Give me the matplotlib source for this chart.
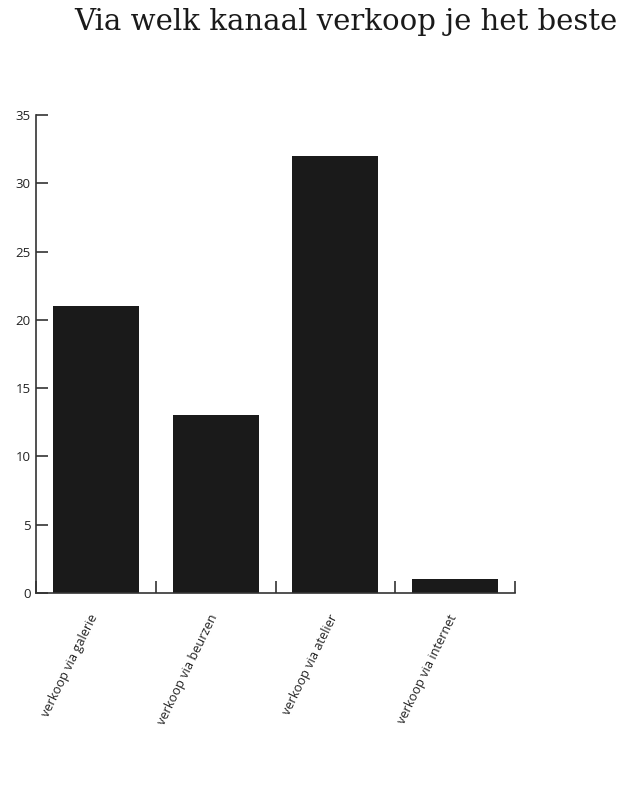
import numpy as np
import matplotlib.pyplot as plt

# data
categories = ["verkoop via galerie", "verkoop via beurzen", "verkoop via atelier", "verkoop via internet"]
values = [21, 13, 32, 1]
y_ticks = [0, 5, 10, 15, 20, 25, 30, 35]

fig = plt.figure(figsize=(6.27, 8), dpi=100)
ax = fig.add_axes([36/627, 1-593/800, (515-36)/627, (593-115)/800])

x = np.arange(len(categories))
ax.bar(x, values, width=0.72, color="#1a1a1a")

ax.set_xlim(-0.5, len(categories) - 0.5)
ax.set_ylim(0, 35)

for s in ["top", "right"]:
    ax.spines[s].set_visible(False)
for s in ["left", "bottom"]:
    ax.spines[s].set_color("#333333")
    ax.spines[s].set_linewidth(1.2)

ax.set_yticks(y_ticks)
ax.tick_params(axis="y", direction="in", length=8.5, width=1.2, color="#333333",
               labelsize=9.5, labelcolor="#222222", pad=4)
for lab in ax.get_yticklabels():
    lab.set_fontfamily("Open Sans")

# x ticks sit on category boundaries
ax.set_xticks(np.arange(len(categories) + 1) - 0.5)
ax.set_xticklabels([])
ax.tick_params(axis="x", direction="in", length=8.5, width=1.2, color="#333333")

# rotated category labels
for i, c in enumerate(categories):
    ax.annotate(c, xy=(i, 0), xycoords="data", xytext=(-1, -16), textcoords="offset points",
                rotation=64, rotation_mode="anchor", ha="right", va="center",
                fontsize=9.2, family="Open Sans", color="#222222")

fig.text(0.552, 0.972, "Via welk kanaal verkoop je het beste", ha="center", va="center",
         fontsize=21, family="DejaVu Serif", color="#1a1a1a")

fig.savefig("out.png", dpi=100)
